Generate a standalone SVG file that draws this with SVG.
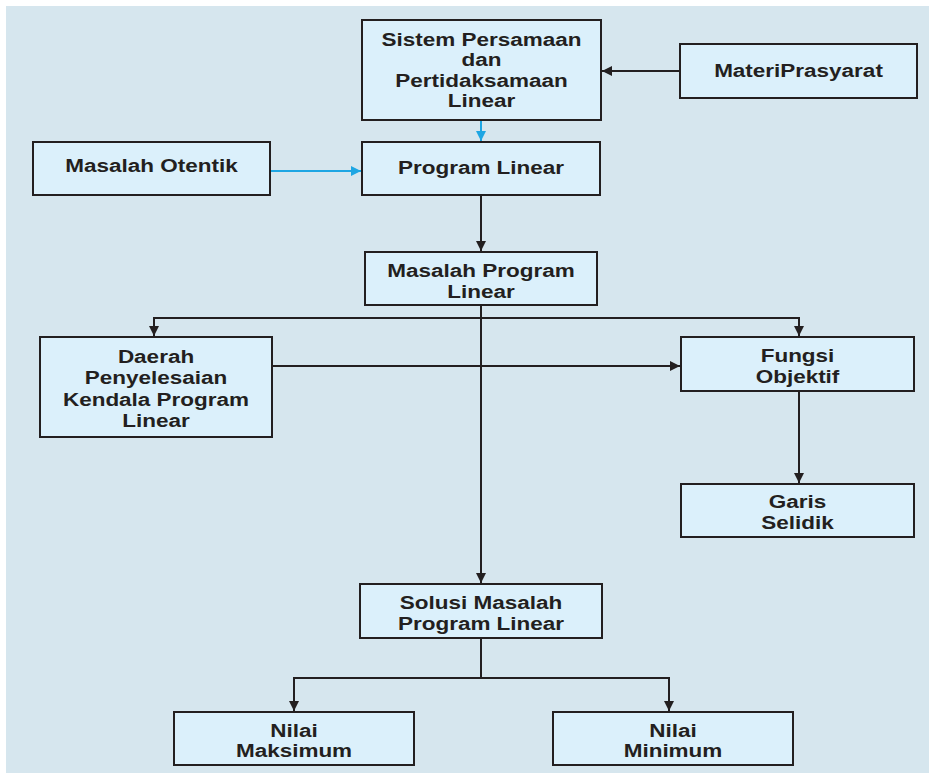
<svg xmlns="http://www.w3.org/2000/svg" width="929" height="778" viewBox="0 0 929 778">
<style>
.box{fill:#dbf0fb;stroke:#231f20;stroke-width:2}
.t{font-family:"Liberation Sans",Arial,sans-serif;font-weight:bold;font-size:18px;fill:#231f20;text-anchor:middle}
.ln{fill:none;stroke:#231f20;stroke-width:2}
.bl{fill:none;stroke:#1ea6e3;stroke-width:2}
</style>
<defs>
<marker id="ak" viewBox="0 0 10 10" refX="10" refY="5" markerWidth="10" markerHeight="10" markerUnits="userSpaceOnUse" orient="auto"><path d="M0,0 L10,5 L0,10 z" fill="#231f20"/></marker>
<marker id="ab" viewBox="0 0 10 10" refX="10" refY="5" markerWidth="10" markerHeight="10" markerUnits="userSpaceOnUse" orient="auto"><path d="M0,0 L10,5 L0,10 z" fill="#1ea6e3"/></marker>
</defs>
<rect x="0" y="0" width="929" height="778" fill="#ffffff"/>
<rect x="6" y="6" width="923" height="767" fill="#d6e6ee"/>
<g id="connectors">
<path class="ln" d="M680,71 H602" marker-end="url(#ak)"/>
<path class="bl" d="M481,120 V141" marker-end="url(#ab)"/>
<path class="bl" d="M270,171 H361" marker-end="url(#ab)"/>
<path class="ln" d="M481,195 V251" marker-end="url(#ak)"/>
<path class="ln" d="M481,305 V583" marker-end="url(#ak)"/>
<path class="ln" d="M481,318 H154 V336" marker-end="url(#ak)"/>
<path class="ln" d="M481,318 H799 V336" marker-end="url(#ak)"/>
<path class="ln" d="M272,366 H680" marker-end="url(#ak)"/>
<path class="ln" d="M799,391 V483" marker-end="url(#ak)"/>
<path class="ln" d="M481,638 V678"/>
<path class="ln" d="M481,678 H294 V711" marker-end="url(#ak)"/>
<path class="ln" d="M481,678 H669 V711" marker-end="url(#ak)"/>
</g>
<g id="sistem">
<rect class="box" x="362" y="20" width="239" height="100"/>
<text class="t" transform="translate(481.5,0) scale(1.25,1)"><tspan x="0" y="46">Sistem Persamaan</tspan><tspan x="0" y="66.5">dan</tspan><tspan x="0" y="87">Pertidaksamaan</tspan><tspan x="0" y="107.5">Linear</tspan></text>
</g>
<g id="materi">
<rect class="box" x="680" y="44" width="237" height="54"/>
<text class="t" transform="translate(798.5,0) scale(1.25,1)"><tspan x="0" y="77">MateriPrasyarat</tspan></text>
</g>
<g id="otentik">
<rect class="box" x="33" y="142" width="237" height="53"/>
<text class="t" transform="translate(151.5,0) scale(1.25,1)"><tspan x="0" y="172">Masalah Otentik</tspan></text>
</g>
<g id="program">
<rect class="box" x="362" y="142" width="238" height="53"/>
<text class="t" transform="translate(481,0) scale(1.25,1)"><tspan x="0" y="174">Program Linear</tspan></text>
</g>
<g id="masalah">
<rect class="box" x="365" y="252" width="232" height="53"/>
<text class="t" transform="translate(481,0) scale(1.25,1)"><tspan x="0" y="277">Masalah Program</tspan><tspan x="0" y="298">Linear</tspan></text>
</g>
<g id="daerah">
<rect class="box" x="40" y="337" width="232" height="100"/>
<text class="t" transform="translate(156,0) scale(1.25,1)"><tspan x="0" y="363">Daerah</tspan><tspan x="0" y="384.5">Penyelesaian</tspan><tspan x="0" y="406">Kendala Program</tspan><tspan x="0" y="427">Linear</tspan></text>
</g>
<g id="fungsi">
<rect class="box" x="681" y="337" width="233" height="54"/>
<text class="t" transform="translate(797.5,0) scale(1.25,1)"><tspan x="0" y="362">Fungsi</tspan><tspan x="0" y="383">Objektif</tspan></text>
</g>
<g id="garis">
<rect class="box" x="681" y="484" width="233" height="53"/>
<text class="t" transform="translate(797.5,0) scale(1.25,1)"><tspan x="0" y="508">Garis</tspan><tspan x="0" y="529">Selidik</tspan></text>
</g>
<g id="solusi">
<rect class="box" x="360" y="584" width="242" height="54"/>
<text class="t" transform="translate(481,0) scale(1.25,1)"><tspan x="0" y="609">Solusi Masalah</tspan><tspan x="0" y="630">Program Linear</tspan></text>
</g>
<g id="maks">
<rect class="box" x="174" y="712" width="240" height="53"/>
<text class="t" transform="translate(294,0) scale(1.25,1)"><tspan x="0" y="737">Nilai</tspan><tspan x="0" y="757">Maksimum</tspan></text>
</g>
<g id="min">
<rect class="box" x="553" y="712" width="240" height="53"/>
<text class="t" transform="translate(673,0) scale(1.25,1)"><tspan x="0" y="737">Nilai</tspan><tspan x="0" y="757">Minimum</tspan></text>
</g>
</svg>
